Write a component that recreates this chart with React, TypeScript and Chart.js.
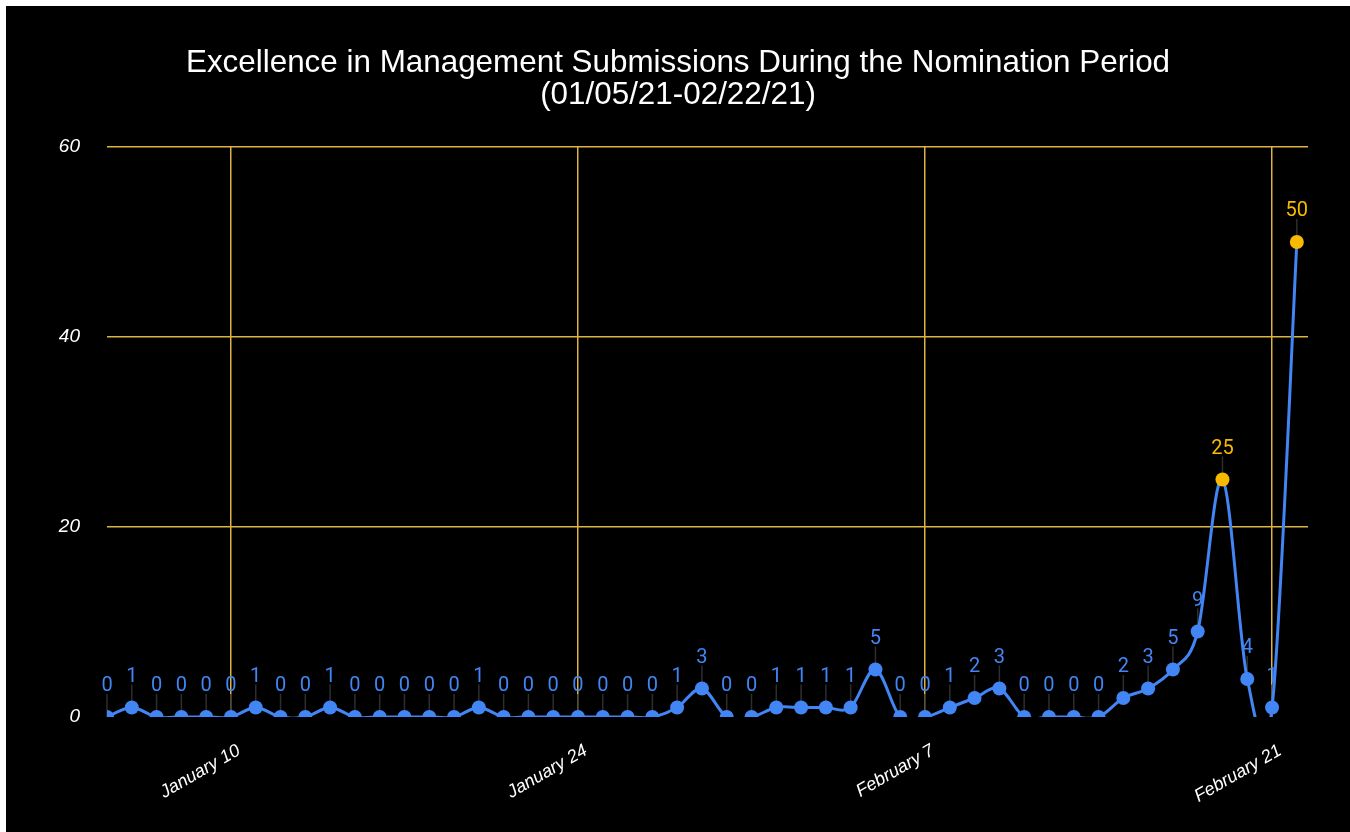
import React, { useEffect, useRef } from "react";
import { Chart, registerables } from "chart.js";

Chart.register(...registerables);

// Daily submission counts, 01/05/21 through 02/22/21
const dates = [
  "January 5", "January 6", "January 7", "January 8", "January 9", "January 10",
  "January 11", "January 12", "January 13", "January 14", "January 15", "January 16",
  "January 17", "January 18", "January 19", "January 20", "January 21", "January 22",
  "January 23", "January 24", "January 25", "January 26", "January 27", "January 28",
  "January 29", "January 30", "January 31",
  "February 1", "February 2", "February 3", "February 4", "February 5", "February 6",
  "February 7", "February 8", "February 9", "February 10", "February 11", "February 12",
  "February 13", "February 14", "February 15", "February 16", "February 17", "February 18",
  "February 19", "February 20", "February 21", "February 22",
];

const submissions = [
  0, 1, 0, 0, 0, 0, 1, 0, 0, 1, 0, 0, 0, 0, 0, 1, 0, 0, 0, 0, 0, 0, 0, 1, 3, 0, 0,
  1, 1, 1, 1, 5, 0, 0, 1, 2, 3, 0, 0, 0, 0, 2, 3, 5, 9, 25, 4, 1, 50,
];

const xTickLabels = ["January 10", "January 24", "February 7", "February 21"];
const yTicks = [0, 20, 40, 60];

const titleLines = [
  "Excellence in Management Submissions During the Nomination Period",
  "(01/05/21-02/22/21)",
];

const BLUE = "#4285F4";
const GOLD = "#F9B900";
const GRID = "#dcb443";
const HIGHLIGHT_MIN = 20;

const pointColor = (v: number) => (v >= HIGHLIGHT_MIN ? GOLD : BLUE);

// Two-line heading centred across the whole canvas
const titlePlugin = {
  id: "titleLines",
  afterDraw(chart: any) {
    const ctx = chart.ctx;
    ctx.save();
    ctx.font = "31.4px 'Liberation Sans', Arial, sans-serif";
    ctx.fillStyle = "#ffffff";
    ctx.textAlign = "center";
    ctx.textBaseline = "alphabetic";
    titleLines.forEach((t, i) => ctx.fillText(t, chart.width / 2, 66 + i * 32));
    ctx.restore();
  },
};

// Uniform Catmull-Rom smoothing: tangents from neighbouring points, free to overshoot
const SMOOTH = 1 / 6;
const catmullRomPlugin = {
  id: "catmullRom",
  beforeDatasetDraw(chart: any, args: any) {
    const meta = args.meta;
    const line = meta.dataset;
    if (!line) return;
    line.updateControlPoints(chart.chartArea, "x");
    const pts = meta.data;
    const n = pts.length;
    for (let i = 0; i < n; i++) {
      const prev = pts[Math.max(0, i - 1)];
      const next = pts[Math.min(n - 1, i + 1)];
      const p = pts[i];
      const dx = (next.x - prev.x) * SMOOTH;
      const dy = (next.y - prev.y) * SMOOTH;
      p.cp1x = p.x - dx;
      p.cp1y = p.y - dy;
      p.cp2x = p.x + dx;
      p.cp2y = p.y + dy;
    }
  },
};

// Value annotations: thin stem under each number, number above each point
const valueLabelPlugin = {
  id: "valueLabels",
  beforeDatasetsDraw(chart: any) {
    const ctx = chart.ctx;
    const meta = chart.getDatasetMeta(0);
    ctx.save();
    ctx.strokeStyle = "#2e2e2e";
    ctx.lineWidth = 1.5;
    meta.data.forEach((el: any) => {
      ctx.beginPath();
      ctx.moveTo(el.x, el.y - 23);
      ctx.lineTo(el.x, el.y);
      ctx.stroke();
    });
    ctx.restore();
  },
  afterDatasetsDraw(chart: any) {
    const ctx = chart.ctx;
    const meta = chart.getDatasetMeta(0);
    const values = chart.data.datasets[0].data;
    ctx.save();
    ctx.font = "20px Roboto, 'Noto Sans', sans-serif";
    ctx.textAlign = "center";
    ctx.textBaseline = "alphabetic";
    meta.data.forEach((el: any, i: number) => {
      const v = values[i].y;
      ctx.fillStyle = pointColor(v);
      ctx.fillText(String(v), el.x, el.y - 26);
    });
    ctx.restore();
  },
};

export default function App() {
  const canvasRef = useRef<HTMLCanvasElement | null>(null);

  useEffect(() => {
    if (!canvasRef.current) return;
    const points = submissions.map((v, i) => ({ x: i, y: v }));
    const tickIndex = xTickLabels.map((l) => dates.indexOf(l));

    const chart = new Chart(canvasRef.current, {
      type: "line",
      data: {
        datasets: [
          {
            data: points,
            borderColor: BLUE,
            borderWidth: 3,
            tension: 0.4,
            pointRadius: 7,
            pointHoverRadius: 7,
            pointBorderWidth: 0,
            pointBackgroundColor: (c: any) => pointColor(c.raw ? c.raw.y : 0),
            clip: 0,
          } as any,
        ],
      },
      options: {
        responsive: false,
        animation: false,
        layout: { padding: { top: 141, right: 42, left: 0, bottom: 0 } },
        elements: { line: { capBezierPoints: false } },
        plugins: {
          legend: { display: false },
          title: { display: false },
          tooltip: { enabled: false },
        },
        scales: {
          x: {
            type: "linear",
            min: 0,
            max: dates.length - 0.55,
            afterBuildTicks: (scale: any) => {
              scale.ticks = tickIndex.map((v) => ({ value: v }));
            },
            afterFit: (scale: any) => {
              scale.height = 115;
            },
            border: { display: false },
            grid: { color: GRID, lineWidth: 1.5, drawTicks: false },
            ticks: {
              color: "#ffffff",
              autoSkip: false,
              minRotation: 30,
              maxRotation: 30,
              padding: 23,
              labelOffset: 8,
              font: { family: "'Liberation Sans', Arial, sans-serif", size: 18, style: "italic" },
              callback: (v: any) => dates[Number(v)] ?? "",
            },
          },
          y: {
            min: 0,
            max: 60,
            afterBuildTicks: (scale: any) => {
              scale.ticks = yTicks.map((v) => ({ value: v }));
            },
            afterFit: (scale: any) => {
              scale.width = 101;
            },
            border: { display: false },
            grid: {
              color: (c: any) => (c.tick && c.tick.value === 0 ? "rgba(0,0,0,0)" : GRID),
              lineWidth: 1.5,
              drawTicks: false,
            },
            ticks: {
              color: "#ffffff",
              padding: 27,
              font: { family: "'Liberation Sans', Arial, sans-serif", size: 19, style: "italic" },
            },
          },
        },
      } as any,
      plugins: [titlePlugin, catmullRomPlugin, valueLabelPlugin],
    });
    return () => chart.destroy();
  }, []);

  return (
    <div
      style={{
        position: "fixed",
        left: 6,
        top: 6,
        width: 1344,
        height: 826,
        background: "#000000",
      }}
    >
      <canvas ref={canvasRef} width={1344} height={826} style={{ display: "block" }} />
    </div>
  );
}
